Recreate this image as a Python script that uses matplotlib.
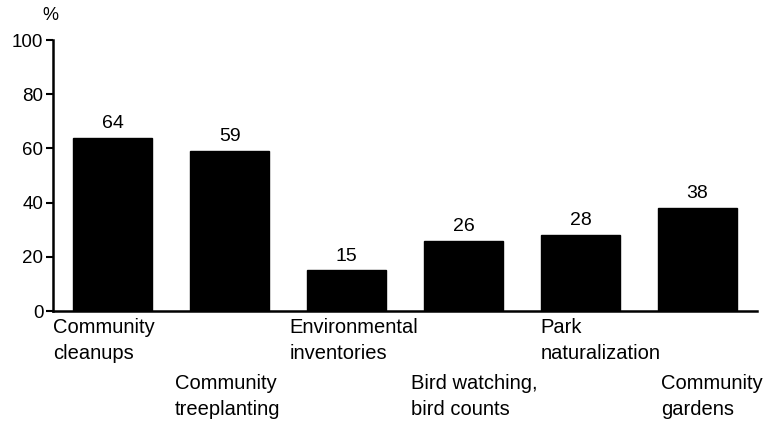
import matplotlib
matplotlib.use("Agg")
import matplotlib.pyplot as plt
import matplotlib.transforms as mtransforms

plt.rcParams['font.family'] = ['Liberation Sans', 'DejaVu Sans']

# data
categories = ['Community\ncleanups', 'Community\ntreeplanting',
              'Environmental\ninventories', 'Bird watching,\nbird counts',
              'Park\nnaturalization', 'Community\ngardens']
values = [64, 59, 15, 26, 28, 38]
y_ticks = [0, 20, 40, 60, 80, 100]

# label layout: staggered rows, small nudges relative to bar left edge
label_row = [0, 1, 0, 1, 0, 1]
label_shift = [-0.17, -0.13, -0.15, -0.11, 0.0, 0.03]

fig = plt.figure(figsize=(7.77, 4.22), dpi=100)
ax = fig.add_axes([0.0682, 0.263, 0.906, 0.642])

x = list(range(len(values)))
bar_w = 0.68
ax.bar(x, values, width=bar_w, color='black', edgecolor='black')

for xi, v in zip(x, values):
    ax.annotate(str(v), (xi, v), xytext=(0, 7), textcoords='offset points',
                ha='center', va='baseline', fontsize=14)

ax.set_xlim(-0.51, 5.51)
ax.set_ylim(0, 100)
ax.set_yticks(y_ticks)
ax.set_xticks([])
ax.tick_params(axis='y', direction='out', length=5, width=1.5, labelsize=13.5, pad=2)

for side in ['top', 'right']:
    ax.spines[side].set_visible(False)
for side in ['left', 'bottom']:
    ax.spines[side].set_linewidth(1.8)

trans = mtransforms.blended_transform_factory(ax.transData, fig.transFigure)
row_top = [1 - 318 / 422, 1 - 374 / 422]
for xi, lab, r, s in zip(x, categories, label_row, label_shift):
    ax.text(xi - bar_w / 2 + s, row_top[r], lab, transform=trans,
            ha='left', va='top', fontsize=14.5, linespacing=1.45, clip_on=False)

fig.text(50 / 777, 1 - 15 / 422, '%', ha='center', va='center', fontsize=13)

fig.savefig('out.png', dpi=100)
